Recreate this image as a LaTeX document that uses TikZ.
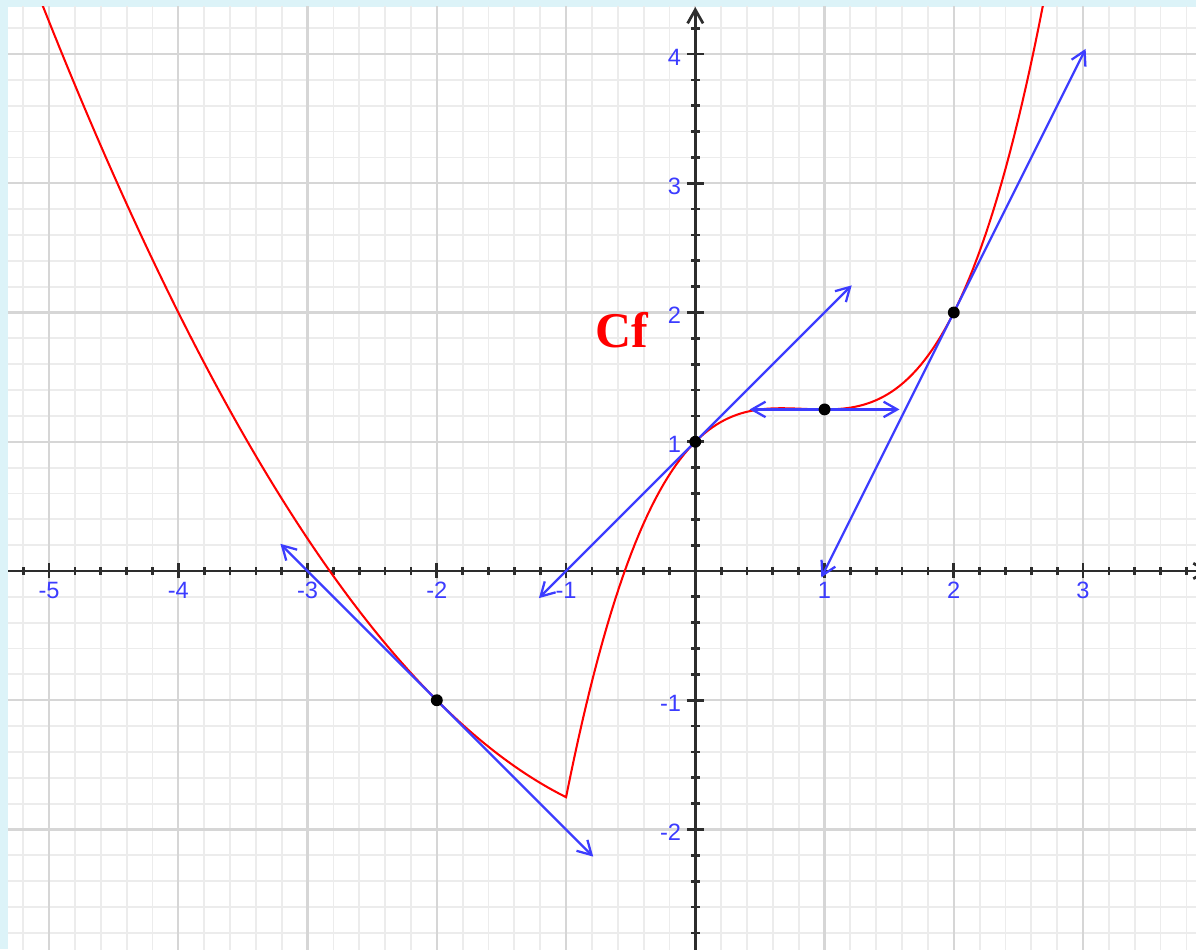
\documentclass[tikz,border=0pt]{standalone}
\usepackage{fontspec}
\setmainfont{Liberation Serif}
\newfontfamily\sofont{Liberation Sans}
\usepackage{xcolor}
\usepackage{tikz}
\usetikzlibrary{calc, arrows.meta}
\definecolor{khung}{RGB}{220,243,248}
\definecolor{luoiphu}{RGB}{236,236,236}
\definecolor{luoichinh}{RGB}{214,214,214}
\definecolor{xanh}{RGB}{60,60,255}
\definecolor{truc}{RGB}{45,45,45}

\begin{document}
\begin{tikzpicture}[>={Straight Barb[length=3pt,width=3.4pt]},
    nhanso/.style={font=\sofont\fontsize{5.2}{6}\selectfont, text=xanh, inner sep=0pt},
    tieptuyen/.style={<->, xanh, line width=0.5pt},
    diem/.style={circle, fill=black, inner sep=0pt, minimum size=0.092cm}]
    \useasboundingbox (-5.380,-2.925) rectangle (3.874,4.418);
    \fill[khung] (-5.380,-2.925) rectangle (3.874,4.418);
    \fill[white] (-5.318,-2.925) rectangle (3.874,4.364);
    \begin{scope}
    \clip (-5.318,-2.925) rectangle (3.874,4.364);
    % 1. Lưới
    \draw[luoiphu, line width=0.4pt, step=0.2] (-5.4,-3) grid (4,4.4);
    \draw[luoichinh, line width=0.5pt, step=1] (-6,-3) grid (4,5);

    % 2. Hệ trục tọa độ
    \draw[->, truc, line width=0.6pt] (-5.4,0) -- (3.98,0);
    \draw[->, truc, line width=0.6pt] (0,-3) -- (0,4.364);

    % 3. Đánh dấu các mốc
    \foreach \i in {-26,...,19} {
        \draw[truc, line width=0.6pt] (\i/5,0.028) -- (\i/5,-0.028);
    }
    \foreach \x in {-5,...,3} {
        \draw[truc, line width=0.6pt] (\x,0.058) -- (\x,-0.058);
    }
    \foreach \i in {-14,...,21} {
        \draw[truc, line width=0.6pt] (0.033,\i/5) -- (-0.033,\i/5);
    }
    \foreach \y in {-2,...,4} {
        \draw[truc, line width=0.6pt] (0.066,\y) -- (-0.066,\y);
    }
    \foreach \x [count=\i] in {-5,-4,-3,-2,-1,1,2,3} {
        \node[nhanso] (sox\i) at (\x,-0.152) {\x};
    }
    \foreach \y [count=\i] in {-2,-1,1,2,3,4} {
        \node[nhanso, anchor=east] (soy\i) at (-0.103,\y-0.024) {\y};
    }

    % 4. Vẽ đồ thị hàm số
    \draw[red, line width=0.45pt, samples=120, domain=-5.2:-1]
        plot (\x, {\x*\x/4 - 2})
        -- plot[domain=-1:2.75] (\x, {0.5*\x*\x*\x - 1.25*\x*\x + \x + 1});
    \node[text=red, font=\bfseries\fontsize{11}{13}\selectfont, anchor=base]
        (tenC) at (-0.567,1.733) {Cf};

    % 5. Các tiếp tuyến
    \coordinate (a1) at (-3.21,0.21);
    \coordinate (b1) at (-0.79,-2.21);
    \coordinate (a2) at (-1.21,-0.21);
    \coordinate (b2) at (1.21,2.21);
    \coordinate (a3) at (0.42,1.25);
    \coordinate (b3) at (1.58,1.25);
    \coordinate (a4) at (0.975,-0.05);
    \coordinate (b4) at (3.02,4.04);
    \foreach \k in {1,...,4} {
        \draw[tieptuyen] (a\k) -- (b\k);
    }
    \node[diem] (M1) at (-2,-1) {};
    \node[diem] (M2) at (0,1) {};
    \node[diem] (M3) at (1,1.25) {};
    \node[diem] (M4) at (2,2) {};
    \end{scope}
\end{tikzpicture}
\end{document}
